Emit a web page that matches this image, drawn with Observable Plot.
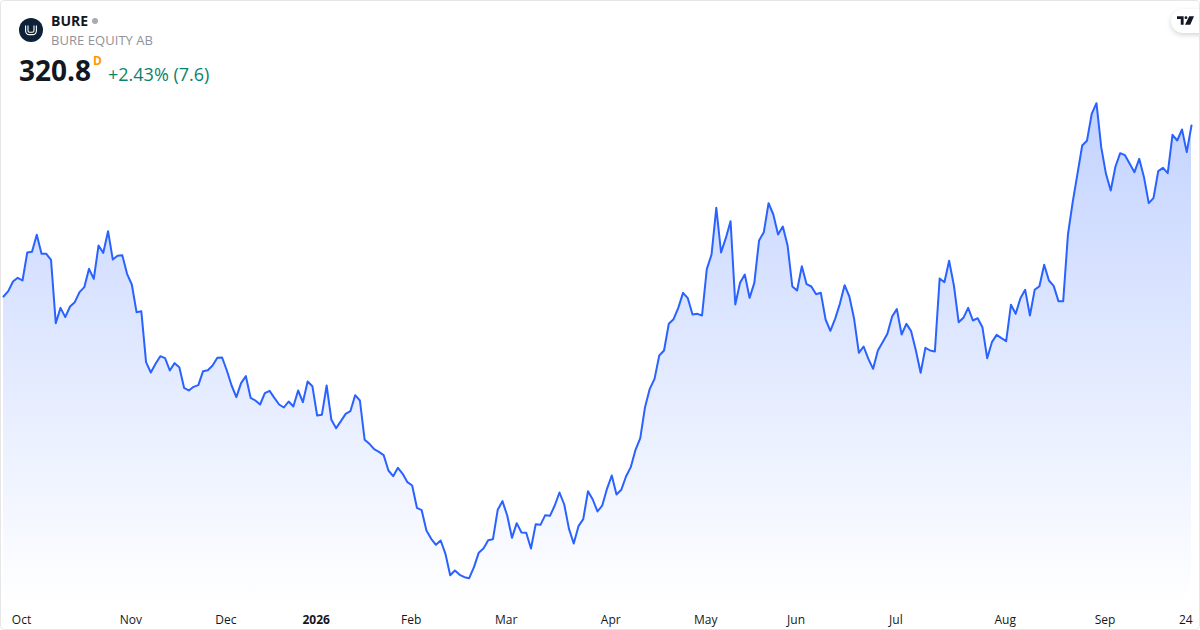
<!DOCTYPE html>
<html>
<head>
<meta charset="utf-8">
<script src="https://cdn.jsdelivr.net/npm/d3@7"></script>
<script src="https://cdn.jsdelivr.net/npm/@observablehq/plot@0.6"></script>
<style>
  html, body { margin: 0; padding: 0; background: #fff; }
  #card { position: relative; width: 1200px; height: 630px; overflow: hidden; background: #fff; font-family: "Open Sans", sans-serif; }
  #frame { position: absolute; inset: 0; border: 1px solid #e6e6e6; border-radius: 4px; box-sizing: border-box; pointer-events: none; }
  #chart { position: absolute; left: 0; top: 0; }
  #chart svg { display: block; }
  .h { position: absolute; white-space: nowrap; line-height: 1; }
  #logo { position: absolute; left: 19px; top: 18px; width: 24px; height: 24px; }
  #tv { position: absolute; left: 1171px; top: 9px; width: 44px; height: 24px; background: #fff; border-radius: 12px; box-shadow: 0 2px 5px rgba(19,23,34,.18); }
</style>
</head>
<body>
<div id="card">
  <div id="chart"></div>
  <svg id="logo" viewBox="0 0 24 24">
    <circle cx="12" cy="12" r="12" fill="#0d2238"/>
    <path d="M6.6 7.5v5.5a3.6 3.6 0 0 0 3.6 3.6h3.6a3.6 3.6 0 0 0 3.6-3.6V7.5" fill="none" stroke="#fff" stroke-width="1.1"/>
    <path d="M9 7.5v5a1.8 1.8 0 0 0 1.8 1.8h2.4a1.8 1.8 0 0 0 1.8-1.8v-5" fill="none" stroke="#fff" stroke-width="1.1"/>
  </svg>
  <div class="h" style="left:51px;top:14px;font-size:14px;font-weight:700;color:#131722">BURE</div>
  <div class="h" style="left:92px;top:18px;width:6px;height:6px;border-radius:50%;background:#a8abb3"></div>
  <div class="h" style="left:51px;top:34px;font-size:13px;letter-spacing:.05px;color:#8f929b">BURE EQUITY AB</div>
  <div class="h" style="left:19px;top:56px;font-size:28px;font-weight:700;color:#131722">320.8</div>
  <div class="h" style="left:93px;top:55px;font-size:12px;font-weight:700;color:#ff9800">D</div>
  <div class="h" style="left:108px;top:65px;font-size:18px;color:#0b8270">+2.43% (7.6)</div>
  <div id="tv">
    <svg viewBox="0 0 36 18" width="17" height="9" style="position:absolute;left:6px;top:7px">
      <path d="M0 0h14v18H8V6H0z" fill="#131722"/>
      <circle cx="19" cy="3" r="3" fill="#131722"/>
      <path d="M26 0h10l-8 18H17z" fill="#131722"/>
    </svg>
  </div>
  <div id="frame"></div>
</div>
<script>
const prices = [
269.5,271.1,274.0,275.1,274.3,282.7,282.9,288.0,282.3,282.3,
280.5,261.5,266.1,263.3,266.5,267.8,270.8,272.3,277.8,274.8,
284.8,282.6,289.1,280.6,281.7,281.9,276.3,273.1,264.8,265.1,
249.8,246.7,249.3,251.6,251.0,247.3,249.5,248.3,242.1,241.3,
242.4,242.9,247.1,247.4,248.8,251.1,251.2,247.3,242.8,239.3,
243.5,245.6,239.1,238.3,237.1,240.5,241.2,239.1,237.1,236.2,
238.0,236.5,241.3,237.8,244.0,242.6,233.8,234.0,242.8,232.5,
230.0,232.1,234.3,235.1,239.9,238.3,226.5,225.3,223.7,222.9,
221.9,217.3,215.6,218.1,216.3,213.8,212.8,206.1,205.4,199.3,
196.8,195.0,196.3,192.3,185.9,187.3,186.0,185.3,185.0,188.3,
192.6,193.9,196.4,196.7,205.5,208.1,203.8,197.1,201.5,198.7,
198.6,193.9,201.2,201.0,203.9,203.7,206.8,210.7,207.1,199.8,
195.4,200.6,202.7,211.1,208.6,205.0,206.8,211.8,215.8,210.1,
211.5,215.5,218.3,223.5,227.0,236.3,241.8,244.8,251.8,253.3,
261.3,262.7,266.1,270.6,269.0,264.1,264.3,263.8,277.7,282.1,
296.1,282.7,287.0,292.1,267.1,273.6,276.1,269.1,273.6,286.3,
288.8,297.5,294.1,288.1,290.5,284.8,272.5,271.3,278.6,273.2,
272.5,270.2,270.6,262.6,259.2,262.8,267.3,272.9,269.5,262.8,
252.6,254.5,250.8,247.8,253.3,255.8,258.3,263.5,265.7,258.1,
261.3,259.1,253.3,246.6,254.1,253.3,253.0,274.9,273.8,280.2,
272.8,261.8,263.1,266.1,262.3,263.0,260.3,251.0,255.8,258.0,
257.0,256.1,267.0,264.3,269.0,271.5,263.8,271.5,272.6,279.0,
274.3,272.7,268.1,268.1,288.1,297.8,306.3,314.8,316.2,324.3,
327.5,314.3,306.3,301.3,308.5,312.5,311.9,309.3,306.8,310.8,
305.3,297.5,299.0,307.1,308.1,306.5,318.0,316.3,319.6,312.8,
320.8
];
const tickSessions = [4, 27, 47, 86, 106, 128, 148, 167, 188, 211, 232, 249];
const tickLabels = ["Oct", "Nov", "Dec", "Feb", "Mar", "Apr", "May", "Jun", "Jul", "Aug", "Sep", "24"];
const yearSessions = [66];
const yearLabels = ["2026"];

const lineColor = "#2962ff";
const font = '"Open Sans", sans-serif';

const gradient = () => {
  const svg = d3.create("svg:g");
  const g = svg.append("defs").append("linearGradient")
    .attr("id", "areaFill").attr("x1", 0).attr("x2", 0).attr("y1", 0).attr("y2", 1);
  g.append("stop").attr("offset", "0%").attr("stop-color", lineColor).attr("stop-opacity", 0.28);
  g.append("stop").attr("offset", "100%").attr("stop-color", lineColor).attr("stop-opacity", 0);
  return svg.node();
};

const chart = Plot.plot({
  width: 1200,
  height: 630,
  marginTop: 0, marginRight: 0, marginBottom: 0, marginLeft: 0,
  style: { background: "transparent", overflow: "visible", fontFamily: font },
  x: { type: "linear", domain: [0, 250], range: [3, 1191], axis: null },
  y: { type: "linear", domain: [169.3, 358.3], axis: null },
  marks: [
    gradient,
    Plot.areaY(prices, { x: (d, i) => i, y1: 177, y2: d => d, fill: "url(#areaFill)" }),
    Plot.lineY(prices, { x: (d, i) => i, y: d => d, stroke: lineColor, strokeWidth: 2, strokeLinejoin: "round" }),
    Plot.text(tickSessions, { x: d => d, frameAnchor: "bottom", dx: -1, dy: -7, text: (d, i) => tickLabels[i], fontSize: 12, fill: "#131722", lineAnchor: "bottom" }),
    Plot.text(yearSessions, { x: d => d, frameAnchor: "bottom", dx: -1, dy: -7, text: (d, i) => yearLabels[i], fontSize: 12, fontWeight: 700, fill: "#131722", lineAnchor: "bottom" })
  ]
});
document.getElementById("chart").appendChild(chart);
</script>
</body>
</html>
